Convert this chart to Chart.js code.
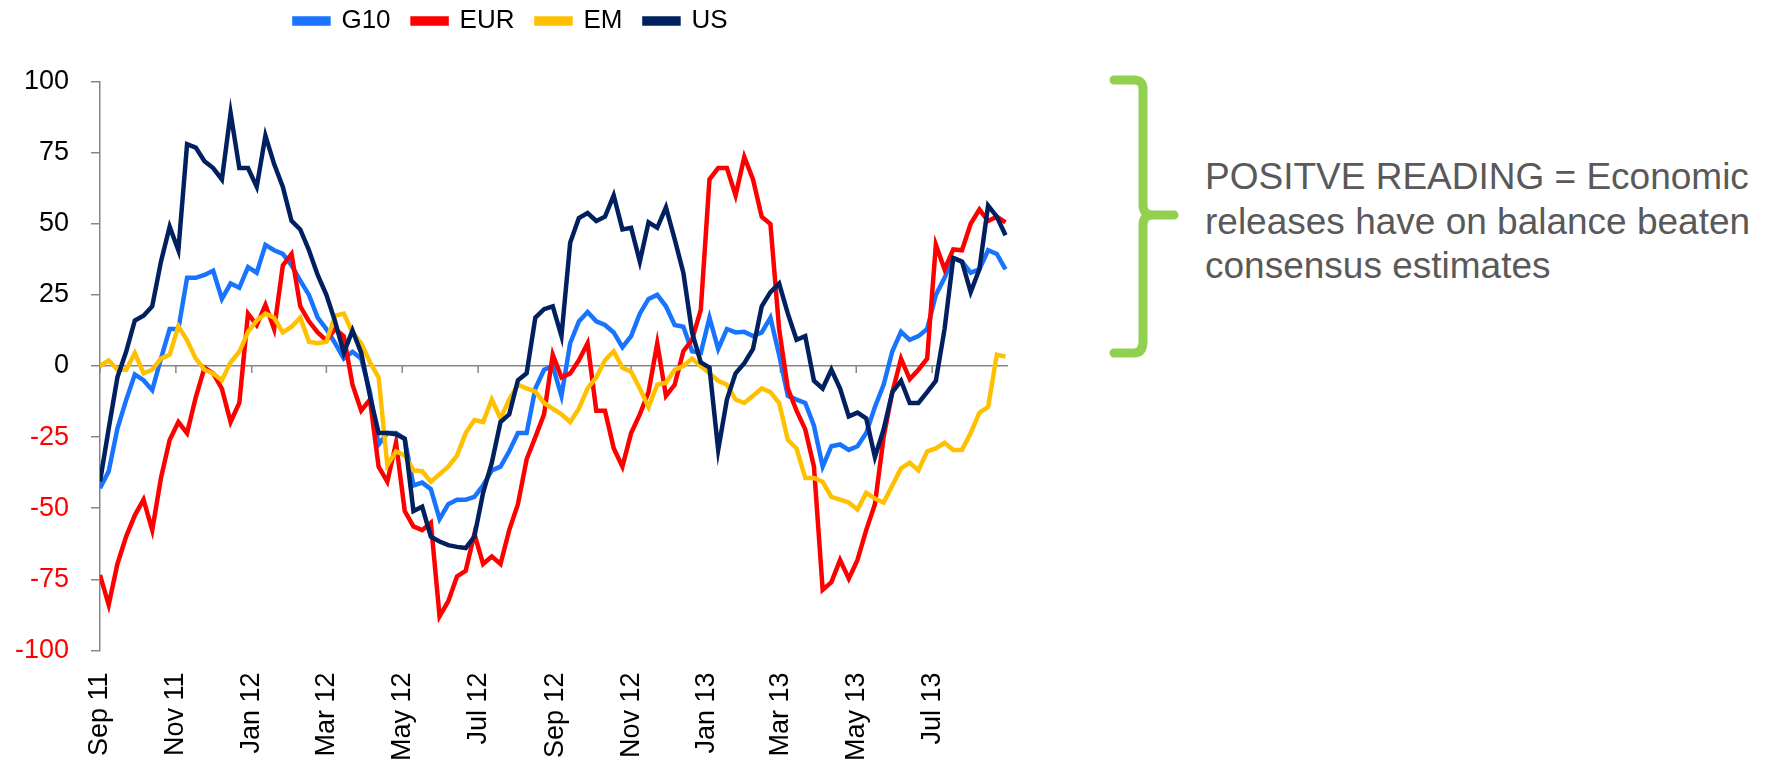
<!DOCTYPE html>
<html lang="en">
<head>
  <meta charset="UTF-8" />
  <title>Economic surprise indices</title>
  <script src="https://cdn.jsdelivr.net/npm/chart.js"></script>
  <style>
    body { margin: 0; background: #fff; width: 1769px; height: 762px; position: relative; overflow: hidden; }
    #chartBox { position: absolute; left: 0; top: -14px; width: 1050px; height: 776px; }
    #brace { position: absolute; left: 1104px; top: 70px; }
    #note {
      position: absolute; left: 1205px; top: 155px;
      font-family: "Liberation Sans", Arial, sans-serif;
      font-size: 37px; line-height: 44.5px; color: #595959; white-space: nowrap;
    }
  </style>
</head>
<body>
  <div id="chartBox"><canvas id="surpriseChart" width="1050" height="776"></canvas></div>

  <svg id="brace" width="90" height="300" viewBox="0 0 90 300">
    <path d="M10 10 H30 Q39 10 39 19 V135 Q39 145 49 145 H70 M49 145 Q39 145 39 155 V271 Q39 283 30 283 H10"
          fill="none" stroke="#92D050" stroke-width="9" stroke-linecap="round" stroke-linejoin="round"/>
  </svg>
  <div id="note">POSITVE READING = Economic<br>releases have on balance beaten<br>consensus estimates</div>

  <script>
    // weekly readings, first one on 1 Sep 2011 (x = days since then)
    const weekDays = Array.from({ length: 105 }, (_, i) => i * 7);

    // x axis ticks every two months
    const tickDays = [0, 61, 122, 182, 243, 304, 366, 427, 488, 547, 608, 669];
    const tickLabels = ["Sep 11", "Nov 11", "Jan 12", "Mar 12", "May 12", "Jul 12",
                        "Sep 12", "Nov 12", "Jan 13", "Mar 13", "May 13", "Jul 13"];

    const g10 = [-43, -37, -22, -12, -3, -5, -8.5, 2.6, 13, 13, 31, 31, 32, 33.5, 23.6, 29, 27.5, 34.8, 32.8, 42.6,
      40.7, 39.4, 35.4, 30, 25, 17, 13, 8, 2.6, 5, 2.6, -9, -27.6, -23.6, -23.6, -25.6, -42, -41, -43.3, -53.8,
      -48.6, -47, -47, -46, -42, -36.7, -35.4, -30, -23.6, -23.6, -7.9, -1.3, 0, -10.5, 8, 15.7, 19, 15.7, 14.4, 11.8,
      6.6, 10.5, 18.4, 23.6, 25, 21, 14.4, 13.8, 5.2, 4.6, 17, 6, 13, 11.8, 12, 10.5, 11.8, 17, 3.9, -10.5,
      -11.8, -13, -21, -35.4, -28.2, -27.6, -29.5, -28.2, -23.6, -14.4, -6.6, 5.2, 12, 9.2, 10.5, 13, 25, 31, 38, 36.7,
      32.8, 34, 40.7, 39.4, 34];

    const eur = [-73.5, -84, -69.6, -60, -52.5, -47, -57.7, -39.4, -26, -19.7, -23.6, -11, -0.6, -2.6, -8, -19.7, -13, 18.4, 14.4, 21.5,
      13, 35.4, 39.4, 21, 15.7, 11.8, 9, 13, 10.5, -6.6, -15.7, -11.8, -35.4, -40.7, -27, -51, -56.4, -57.7, -55.1, -88,
      -82.7, -74, -72, -59, -69.6, -67, -69.6, -57.7, -48.6, -32.8, -25, -17, 4, -4, -2.6, 2, 8, -15.7, -15.7, -28.9,
      -35.4, -23.6, -17, -9.2, 8, -10.5, -6.6, 5.2, 9.2, 19.7, 65.6, 69.6, 69.6, 60, 73.5, 65.6, 52.5, 49.9, 13, -7.9,
      -15.7, -22.3, -35.4, -78.7, -76, -68.2, -74.8, -68.2, -57.7, -48.6, -25, -9.2, 2.6, -4.6, -1.3, 2.6, 42.6, 34, 41, 40.7,
      50, 55, 51, 52.5, 50.5];

    const em = [0, 2, -1.3, -1.3, 4.6, -2.6, -1.3, 2.6, 4, 14, 9, 2.6, -1.3, -2.6, -5, 1.3, 5, 12, 16, 18.4,
      17, 11.8, 13.8, 17, 8.5, 8, 8.5, 17.7, 18.4, 11.8, 8, 1.3, -4, -34.8, -30, -31.5, -36.7, -37, -40.7, -38,
      -35.4, -31.5, -23.6, -19, -19.7, -11.8, -18.4, -11.8, -6.6, -7.9, -9, -13, -15, -17, -19.7, -15, -7.9, -4, 2, 5.2,
      -0.6, -2, -7.9, -14.4, -6.6, -5.9, -1.3, 0, 2.6, 0, -2.6, -5.2, -6.6, -11.8, -13, -10.5, -7.9, -9.2, -13, -26,
      -29, -39.4, -39.4, -40.7, -46, -47, -48, -50.5, -44.6, -46.6, -48, -42, -36, -34, -36.7, -30, -29, -27, -29.5, -29.5,
      -23.6, -16.4, -14.4, 4, 3.3];

    const us = [-40.7, -22, -4, 5, 16, 17.7, 21, 36.7, 49, 40.7, 78, 76.8, 72, 69.6, 65.6, 89, 69.6, 69.6, 63, 81,
      71, 63, 51, 48, 40.7, 32, 25, 15.7, 4.6, 12.5, 4.6, -10.5, -23.6, -23.6, -24, -25.6, -51, -49.5, -60, -61.7,
      -63, -63.6, -64, -60, -44.6, -34, -19.7, -17, -5, -2.6, 17, 20, 21, 10.5, 43.3, 52, 53.8, 51, 52.5, 60,
      48, 48.6, 36.7, 50.5, 48.6, 55.8, 44.6, 32.8, 11.8, 1.3, -0.6, -29.5, -11.8, -2.6, 1, 6, 21, 26, 29, 18.4,
      9.2, 10.5, -5.2, -7.9, -1.3, -7.9, -17.7, -16.4, -18.4, -32, -22.3, -9.2, -5.2, -13, -13, -9.2, -5.2, 13, 38, 36.7,
      26, 34, 56.4, 52.5, 46];

    const seriesNames = ["G10", "EUR", "EM", "US"];
    const seriesColors = ["#1874FF", "#FF0000", "#FFC000", "#002060"];
    const seriesValues = [g10, eur, em, us];

    const font = "'Liberation Sans', Arial, sans-serif";
    const axisGrey = "#868686";

    // small tick marks hanging from the zero line, like the excel axis
    const zeroLineTicks = {
      id: "zeroLineTicks",
      beforeDatasetsDraw(chart) {
        const { ctx, scales: { x, y } } = chart;
        const y0 = y.getPixelForValue(0);
        ctx.save();
        ctx.strokeStyle = axisGrey;
        ctx.lineWidth = 1.5;
        x.ticks.forEach(t => {
          const px = x.getPixelForValue(t.value);
          ctx.beginPath();
          ctx.moveTo(px, y0);
          ctx.lineTo(px, y0 + 7);
          ctx.stroke();
        });
        ctx.restore();
      }
    };

    const ctx = document.getElementById("surpriseChart").getContext("2d");
    new Chart(ctx, {
      type: "line",
      data: {
        datasets: seriesNames.map((name, k) => ({
          label: name,
          data: seriesValues[k].map((v, i) => ({ x: weekDays[i], y: v })),
          borderColor: seriesColors[k],
          backgroundColor: seriesColors[k],
          borderWidth: 4.5,
          pointRadius: 0,
          tension: 0,
          order: 4 - k
        }))
      },
      options: {
        responsive: false,
        animation: false,
        layout: { padding: { top: 0, right: 42, left: 14, bottom: 0 } },
        plugins: {
          tooltip: { enabled: false },
          legend: {
            position: "top",
            labels: {
              font: { family: font, size: 26 },
              color: "#000",
              boxWidth: 34,
              boxHeight: 5,
              padding: 22,
              sort: (a, b) => a.datasetIndex - b.datasetIndex
            }
          },
          // empty title used as a spacer between legend and plot
          title: {
            display: true,
            text: "",
            weight: 500,
            font: { size: 10 },
            padding: { top: 25.6, bottom: 0 }
          }
        },
        scales: {
          x: {
            type: "linear",
            min: 0,
            max: 730,
            afterBuildTicks: scale => { scale.ticks = tickDays.map(d => ({ value: d })); },
            afterFit: scale => { scale.height = 111.6; },
            ticks: {
              autoSkip: false,
              maxRotation: 90,
              minRotation: 90,
              padding: 22,
              color: "#000",
              font: { family: font, size: 27 },
              callback: (value) => tickLabels[tickDays.indexOf(value)]
            },
            grid: { display: false, drawTicks: false },
            border: { display: false }
          },
          y: {
            min: -100,
            max: 100,
            afterFit: scale => { scale.width = 86; },
            ticks: {
              stepSize: 25,
              padding: 22,
              font: { family: font, size: 27 },
              color: c => (c.tick.value < 0 ? "#FF0000" : "#000000")
            },
            grid: {
              color: c => (c.tick && c.tick.value === 0 ? axisGrey : "rgba(0,0,0,0)"),
              lineWidth: 1.5,
              tickColor: axisGrey,
              tickLength: 9
            },
            border: { display: true, color: axisGrey, width: 1.5 }
          }
        }
      },
      plugins: [zeroLineTicks]
    });
  </script>
</body>
</html>
